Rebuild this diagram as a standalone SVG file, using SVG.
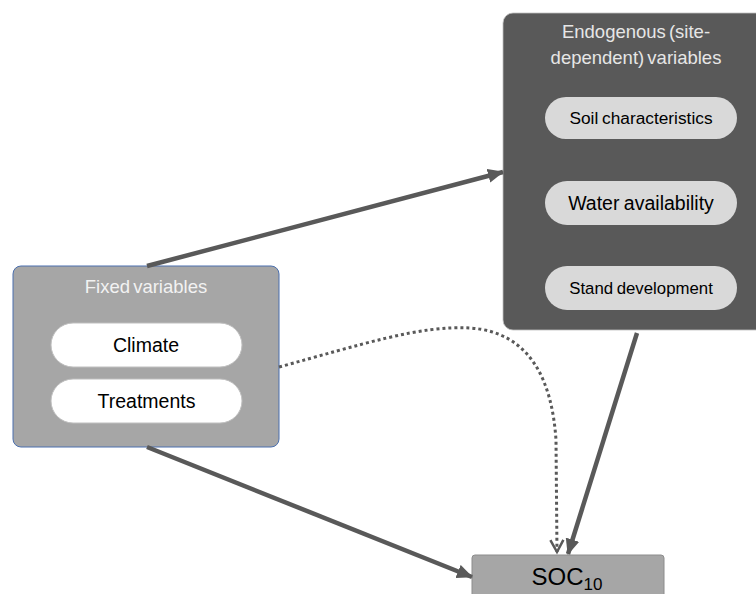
<svg xmlns="http://www.w3.org/2000/svg" width="756" height="594" viewBox="0 0 756 594">
<defs>
<style>
.title{font-family:"Liberation Sans",Arial,sans-serif;font-size:18.5px;text-anchor:middle;word-spacing:-2px}
.pill-t{font-family:"Liberation Sans",Arial,sans-serif;font-size:17.3px;text-anchor:middle;fill:#000;word-spacing:-1px}
.big{font-size:19.5px}
.conn{stroke:#595959;stroke-width:4.5;fill:none}
.dot{stroke:#595959;stroke-width:3;fill:none;stroke-dasharray:3 3}
</style>
<marker id="ah" markerUnits="userSpaceOnUse" markerWidth="16" markerHeight="14" refX="15" refY="7" orient="auto">
<path d="M0,0 L16,7 L0,14 Z" fill="#595959"/>
</marker>
<marker id="ov" markerUnits="userSpaceOnUse" markerWidth="16" markerHeight="16" refX="13" refY="8" orient="auto">
<path d="M1,1.5 L13,8 L1,14.5" fill="none" stroke="#595959" stroke-width="2.5"/>
</marker>
</defs>
<rect width="756" height="594" fill="#fff"/>
<g id="fixed">
<rect x="13" y="266" width="266" height="181" rx="8" fill="#a6a6a6" stroke="#4a6fae" stroke-width="1"/>
<text class="title" x="146" y="293" fill="#f2f2f2">Fixed variables</text>
<g id="climate">
<rect x="51" y="323" width="191" height="44" rx="22" fill="#fff" stroke="#bfbfbf" stroke-width="1"/>
<text class="pill-t big" x="146" y="352">Climate</text>
</g>
<g id="treatments">
<rect x="51" y="379" width="191" height="44" rx="22" fill="#fff" stroke="#bfbfbf" stroke-width="1"/>
<text class="pill-t big" x="146.5" y="408">Treatments</text>
</g>
</g>
<g id="endogenous">
<rect x="503" y="13" width="270" height="317" rx="10" fill="#595959" stroke="#bfbfbf" stroke-width="0.8"/>
<text class="title" x="636" y="38" fill="#e6e6e6">Endogenous (site-</text>
<text class="title" x="636" y="64" fill="#e6e6e6">dependent) variables</text>
<g id="soil">
<rect x="545" y="97" width="192" height="42" rx="21" fill="#d9d9d9"/>
<text class="pill-t" x="641" y="124">Soil characteristics</text>
</g>
<g id="water">
<rect x="545" y="181" width="192" height="44" rx="22" fill="#d9d9d9"/>
<text class="pill-t big" x="641" y="210">Water availability</text>
</g>
<g id="stand">
<rect x="545" y="266" width="192" height="44" rx="22" fill="#d9d9d9"/>
<text class="pill-t" x="641" y="294" style="font-size:16.8px">Stand development</text>
</g>
</g>
<g id="soc">
<rect x="472" y="555" width="192" height="50" rx="3" fill="#a6a6a6" stroke="#8c8c8c" stroke-width="1"/>
<text x="567" y="585" font-family="'Liberation Sans',Arial,sans-serif" font-size="24" text-anchor="middle" fill="#000">SOC<tspan font-size="17" dy="5">10</tspan></text>
</g>
<g id="connectors">
<line class="conn" x1="147" y1="266" x2="503" y2="172" marker-end="url(#ah)"/>
<line class="conn" x1="637" y1="333" x2="568" y2="554" marker-end="url(#ah)"/>
<line class="conn" x1="147" y1="447" x2="472" y2="577" marker-end="url(#ah)"/>
<path class="dot" d="M279,367 C360,345 420,325 470,328 C530,332 552,380 556,440 L557,552" marker-end="url(#ov)"/>
</g>
</svg>
